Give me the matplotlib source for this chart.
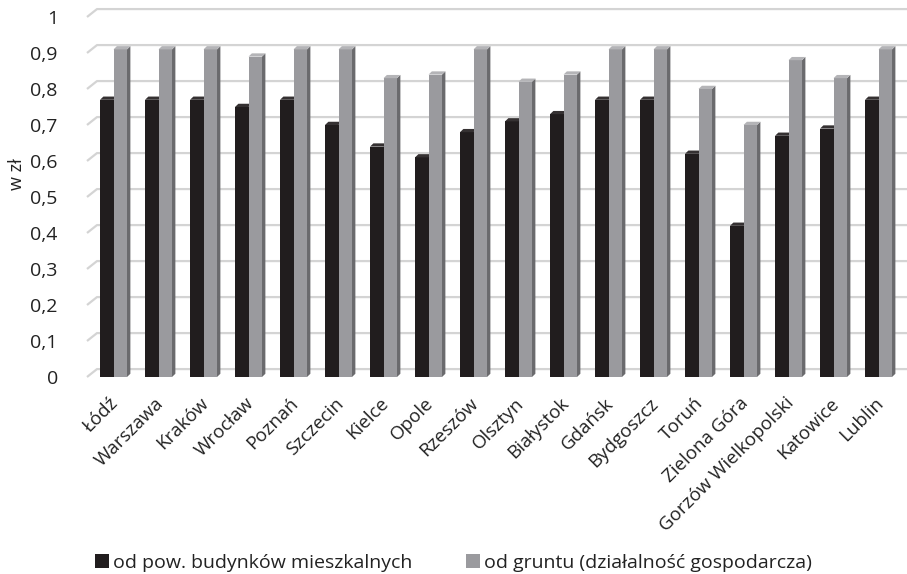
import matplotlib
matplotlib.use("Agg")
import matplotlib.pyplot as plt
from matplotlib.patches import Polygon, Patch

plt.rcParams['font.family'] = ['Open Sans', 'DejaVu Sans']

cities = ["Łódź", "Warszawa", "Kraków", "Wrocław", "Poznań", "Szczecin", "Kielce",
          "Opole", "Rzeszów", "Olsztyn", "Białystok", "Gdańsk", "Bydgoszcz", "Toruń",
          "Zielona Góra", "Gorzów Wielkopolski", "Katowice", "Lublin"]
residential = [0.77, 0.77, 0.77, 0.75, 0.77, 0.70, 0.64, 0.61, 0.68, 0.71, 0.73,
               0.77, 0.77, 0.62, 0.42, 0.67, 0.69, 0.77]
land_business = [0.91, 0.91, 0.91, 0.89, 0.91, 0.91, 0.83, 0.84, 0.91, 0.82, 0.84,
                 0.91, 0.91, 0.80, 0.70, 0.88, 0.83, 0.91]
series_names = ["od pow. budynków mieszkalnych", "od gruntu (działalność gospodarcza)"]
yticks = [0, 0.1, 0.2, 0.3, 0.4, 0.5, 0.6, 0.7, 0.8, 0.9, 1.0]
ytick_labels = ["0", "0,1", "0,2", "0,3", "0,4", "0,5", "0,6", "0,7", "0,8", "0,9", "1"]

W, H = 907, 574
fig = plt.figure(figsize=(W / 100, H / 100), dpi=100)
# axes box in pixels: left 87, right 907, value 0 at y=377, top at y=5
ax = fig.add_axes([87 / W, 1 - 377 / H, (907 - 87) / W, (377 - 5) / H])
ax.set_xlim(-0.589, 17.633)
ax.set_ylim(0, 1.0333)
for s in ax.spines.values():
    s.set_visible(False)

# pseudo-3D depth: back wall offset and bar side depth (data units)
wall_dx, wall_dy = 0.222, 0.022
side_dx, side_dy = 0.075, 0.009
grid_col = "#d4d4d4"

for v in yticks:
    ax.plot([-0.589, -0.589 + wall_dx, 17.7], [v, v + wall_dy, v + wall_dy],
            color=grid_col, lw=1.6, zorder=1, clip_on=False, solid_capstyle="butt")

bw = 0.3
styles = [
    dict(front="#211d1e", side="#141213", top="#353132"),
    dict(front="#9a9a9e", side="#6a6a6d", top="#b4b4b7"),
]
for si, vals in enumerate([residential, land_business]):
    st = styles[si]
    x0s = [i - bw + si * bw for i in range(len(cities))]
    ax.bar(x0s, vals, width=bw, align="edge", color=st["front"], zorder=3, linewidth=0)
    for x0, v in zip(x0s, vals):
        x1 = x0 + bw
        side = Polygon([(x1, 0), (x1 + side_dx, side_dy), (x1 + side_dx, v + side_dy), (x1, v)],
                       closed=True, facecolor=st["side"], edgecolor="none", zorder=2.5 + si)
        top = Polygon([(x0, v), (x1, v), (x1 + side_dx, v + side_dy), (x0 + side_dx, v + side_dy)],
                      closed=True, facecolor=st["top"], edgecolor="none", zorder=3 + si)
        ax.add_patch(side)
        ax.add_patch(top)

ax.set_yticks(yticks)
ax.set_yticklabels(ytick_labels, fontsize=14, color="#222222")
ax.tick_params(axis="y", length=0, pad=21)
ax.set_xticks([i + 0.05 for i in range(len(cities))])
ax.set_xticklabels(cities, rotation=45, ha="right", va="center",
                   rotation_mode="anchor", fontsize=13.5, color="#222222")
ax.tick_params(axis="x", length=0, pad=17)

fig.text(17 / W, 1 - 174 / H, "w zł", rotation=90, ha="center", va="center",
         fontsize=13, color="#222222")

handles = [Patch(facecolor=styles[0]["front"], edgecolor="none"),
           Patch(facecolor=styles[1]["front"], edgecolor="none")]
fig.legend(handles, series_names, loc="center", bbox_to_anchor=(453.5 / W, 1 - 563 / H),
           ncol=2, frameon=False, fontsize=14, handlelength=0.72, handleheight=0.7,
           handletextpad=0.2, columnspacing=2.8, labelcolor="#222222")

fig.savefig("out.png", dpi=100)
